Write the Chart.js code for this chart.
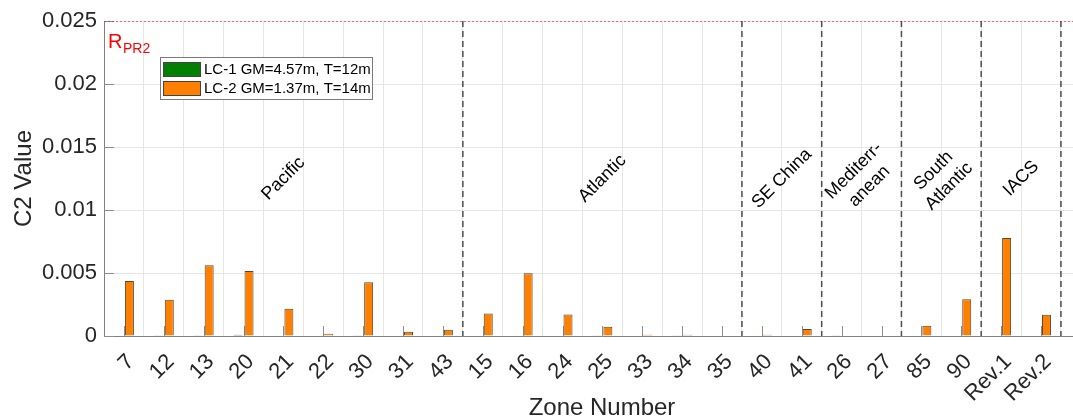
<!DOCTYPE html>
<html>
<head>
<meta charset="utf-8">
<script src="https://cdn.jsdelivr.net/npm/chart.js@4.4.1/dist/chart.umd.min.js"></script>
<style>
  html, body { margin: 0; padding: 0; background: #fff; overflow: hidden; }
  #wrap { width: 1100px; height: 419px; }
</style>
</head>
<body>
<div id="wrap"><canvas id="c2chart" width="1100" height="419"></canvas></div>
<script>
// zone labels along the x axis
const zones = ['7', '12', '13', '20', '21', '22', '30', '31', '43',
               '15', '16', '24', '25', '33', '34', '35',
               '40', '41', '26', '27', '85', '90', 'Rev.1', 'Rev.2'];

// C2 values
const lc1 = [0, 0.00002, 0.00002, 0.0001, 0, 0, 0.00002, 0, 0,
             0, 0.00003, 0, 0.00002, 0, 0.00002, 0,
             0, 0, 0.00002, 0, 0, 0, 0.00003, 0];
const lc2 = [0.00436, 0.00288, 0.00561, 0.00516, 0.00216, 0.00018, 0.00426, 0.00034, 0.0005,
             0.00178, 0.00498, 0.0017, 0.00074, 0.0001, 0.0001, 0.00003,
             0.0001, 0.00056, 0.00004, 0, 0.00082, 0.00292, 0.00777, 0.00168];

const seriesNames = ['LC-1 GM=4.57m, T=12m', 'LC-2 GM=1.37m, T=14m'];

// region groups: label lines and index of last zone in each
const regionNames = [['Pacific'], ['Atlantic'], ['SE China'], ['Mediterr-', 'anean'], ['South', 'Atlantic'], ['IACS']];
const regionEnds = [9, 16, 18, 20, 22, 24];

const yTickValues = [0, 0.005, 0.01, 0.015, 0.02, 0.025];
const yTickLabels = ['0', '0.005', '0.01', '0.015', '0.02', '0.025'];
const rLimit = 0.025;

const FONT = '"Liberation Sans", Arial, sans-serif';
const GREEN = '#007f00';
const ORANGE = '#ff8000';

const overlay = {
  id: 'overlay',
  beforeDatasetsDraw(chart) {
    const { ctx, chartArea: a, scales: { x, y } } = chart;
    ctx.save();
    // inward tick marks
    ctx.strokeStyle = '#8c8c8c';
    ctx.lineWidth = 1;
    ctx.beginPath();
    y.ticks.forEach(t => {
      const py = Math.round(y.getPixelForValue(t.value)) + 0.5;
      ctx.moveTo(a.left, py);
      ctx.lineTo(a.left + 10, py);
    });
    x.ticks.forEach(t => {
      const px = Math.round(x.getPixelForValue(t.value)) + 0.5;
      ctx.moveTo(px, a.bottom);
      ctx.lineTo(px, a.bottom - 10);
    });
    ctx.stroke();

    // region separators
    ctx.setLineDash([6, 4]);
    ctx.strokeStyle = '#4d4d4d';
    ctx.lineWidth = 1.5;
    ctx.beginPath();
    regionEnds.forEach(e => {
      const px = x.getPixelForValue(e + 0.5);
      ctx.moveTo(px, a.top);
      ctx.lineTo(px, a.bottom);
    });
    ctx.stroke();

    // R_PR2 limit line
    ctx.setLineDash([2, 2]);
    ctx.strokeStyle = 'rgba(255,0,0,0.55)';
    ctx.lineWidth = 1;
    const ry = Math.round(y.getPixelForValue(rLimit)) + 0.5;
    ctx.beginPath();
    ctx.moveTo(a.left, ry);
    ctx.lineTo(a.right, ry);
    ctx.stroke();
    ctx.restore();
  },
  afterDatasetsDraw(chart) {
    const { ctx, chartArea: a, scales: { x, y } } = chart;
    ctx.save();

    // region names, rotated 45 degrees
    ctx.fillStyle = '#000';
    ctx.font = '18px ' + FONT;
    ctx.textAlign = 'center';
    ctx.textBaseline = 'middle';
    let start = 1;
    regionNames.forEach((lines, i) => {
      const mid = (start + regionEnds[i]) / 2;
      const cx = x.getPixelForValue(mid);
      const cy = y.getPixelForValue(0.0125);
      ctx.save();
      ctx.translate(cx, cy);
      ctx.rotate(-Math.PI / 4);
      const lh = 22;
      lines.forEach((s, k) => ctx.fillText(s, 0, (k - (lines.length - 1) / 2) * lh));
      ctx.restore();
      start = regionEnds[i] + 1;
    });

    // R_PR2 label
    ctx.fillStyle = '#ff0000';
    ctx.textAlign = 'left';
    ctx.textBaseline = 'alphabetic';
    ctx.font = '20px ' + FONT;
    ctx.fillText('R', a.left + 4, 48);
    ctx.font = '14px ' + FONT;
    ctx.fillText('PR2', a.left + 19, 53);

    // legend box
    const lx = 160.5, ly = 57.5, lw = 212, lh = 42;
    ctx.fillStyle = '#fff';
    ctx.fillRect(lx, ly, lw, lh);
    ctx.strokeStyle = '#7a7a7a';
    ctx.lineWidth = 1;
    ctx.strokeRect(lx, ly, lw, lh);
    ctx.font = '15px ' + FONT;
    ctx.textBaseline = 'middle';
    chart.data.datasets.forEach((ds, i) => {
      const sy = 62 + i * 19;
      ctx.fillStyle = ds.backgroundColor;
      ctx.fillRect(163.5, sy + 0.5, 37, 14);
      ctx.strokeStyle = '#444';
      ctx.strokeRect(163.5, sy + 0.5, 37, 14);
      ctx.fillStyle = '#000';
      ctx.fillText(ds.label, 204, sy + 8);
    });
    ctx.restore();
  }
};

new Chart(document.getElementById('c2chart'), {
  type: 'bar',
  data: {
    datasets: [
      {
        label: seriesNames[0],
        data: zones.map((z, i) => ({ x: i + 1, y: lc1[i] })),
        backgroundColor: GREEN,
        borderColor: '#333',
        borderWidth: 1,
        categoryPercentage: 0.55,
        barPercentage: 0.82
      },
      {
        label: seriesNames[1],
        data: zones.map((z, i) => ({ x: i + 1, y: lc2[i] })),
        backgroundColor: ORANGE,
        borderColor: '#5a4632',
        borderWidth: 1,
        categoryPercentage: 0.55,
        barPercentage: 0.82
      }
    ]
  },
  options: {
    responsive: false,
    animation: false,
    devicePixelRatio: 1,
    layout: { padding: { top: 21, right: 0, left: 0, bottom: 0 } },
    plugins: {
      legend: { display: false },
      tooltip: { enabled: false }
    },
    scales: {
      x: {
        type: 'linear',
        min: 0.5,
        max: 25.48,
        offset: false,
        afterBuildTicks: s => { s.ticks = zones.map((z, i) => ({ value: i + 1 })); },
        afterFit: s => { s.height = 83; s.paddingLeft = 0; s.paddingRight = 0; },
        ticks: {
          autoSkip: false,
          maxRotation: 45,
          minRotation: 45,
          padding: 13,
          labelOffset: 7,
          color: '#262626',
          font: { family: FONT, size: 22 },
          callback: (v, i) => zones[i]
        },
        grid: { color: '#e6e6e6', drawTicks: false },
        border: { color: '#808080', width: 1 },
        title: {
          display: true,
          text: 'Zone Number',
          color: '#262626',
          font: { family: FONT, size: 24 },
          padding: { top: 0, bottom: -4 }
        }
      },
      y: {
        min: 0,
        max: 0.025,
        afterBuildTicks: s => { s.ticks = yTickValues.map(v => ({ value: v })); },
        afterFit: s => { s.width = 104; s.paddingTop = 0; s.paddingBottom = 0; },
        ticks: {
          padding: 7,
          color: '#262626',
          font: { family: FONT, size: 22 },
          callback: (v, i) => yTickLabels[i]
        },
        grid: { color: '#e6e6e6', drawTicks: false },
        border: { color: '#808080', width: 1 },
        title: {
          display: true,
          text: 'C2 Value',
          color: '#262626',
          font: { family: FONT, size: 24 },
          padding: { top: 10, bottom: 0 }
        }
      }
    }
  },
  plugins: [overlay]
});
</script>
</body>
</html>
